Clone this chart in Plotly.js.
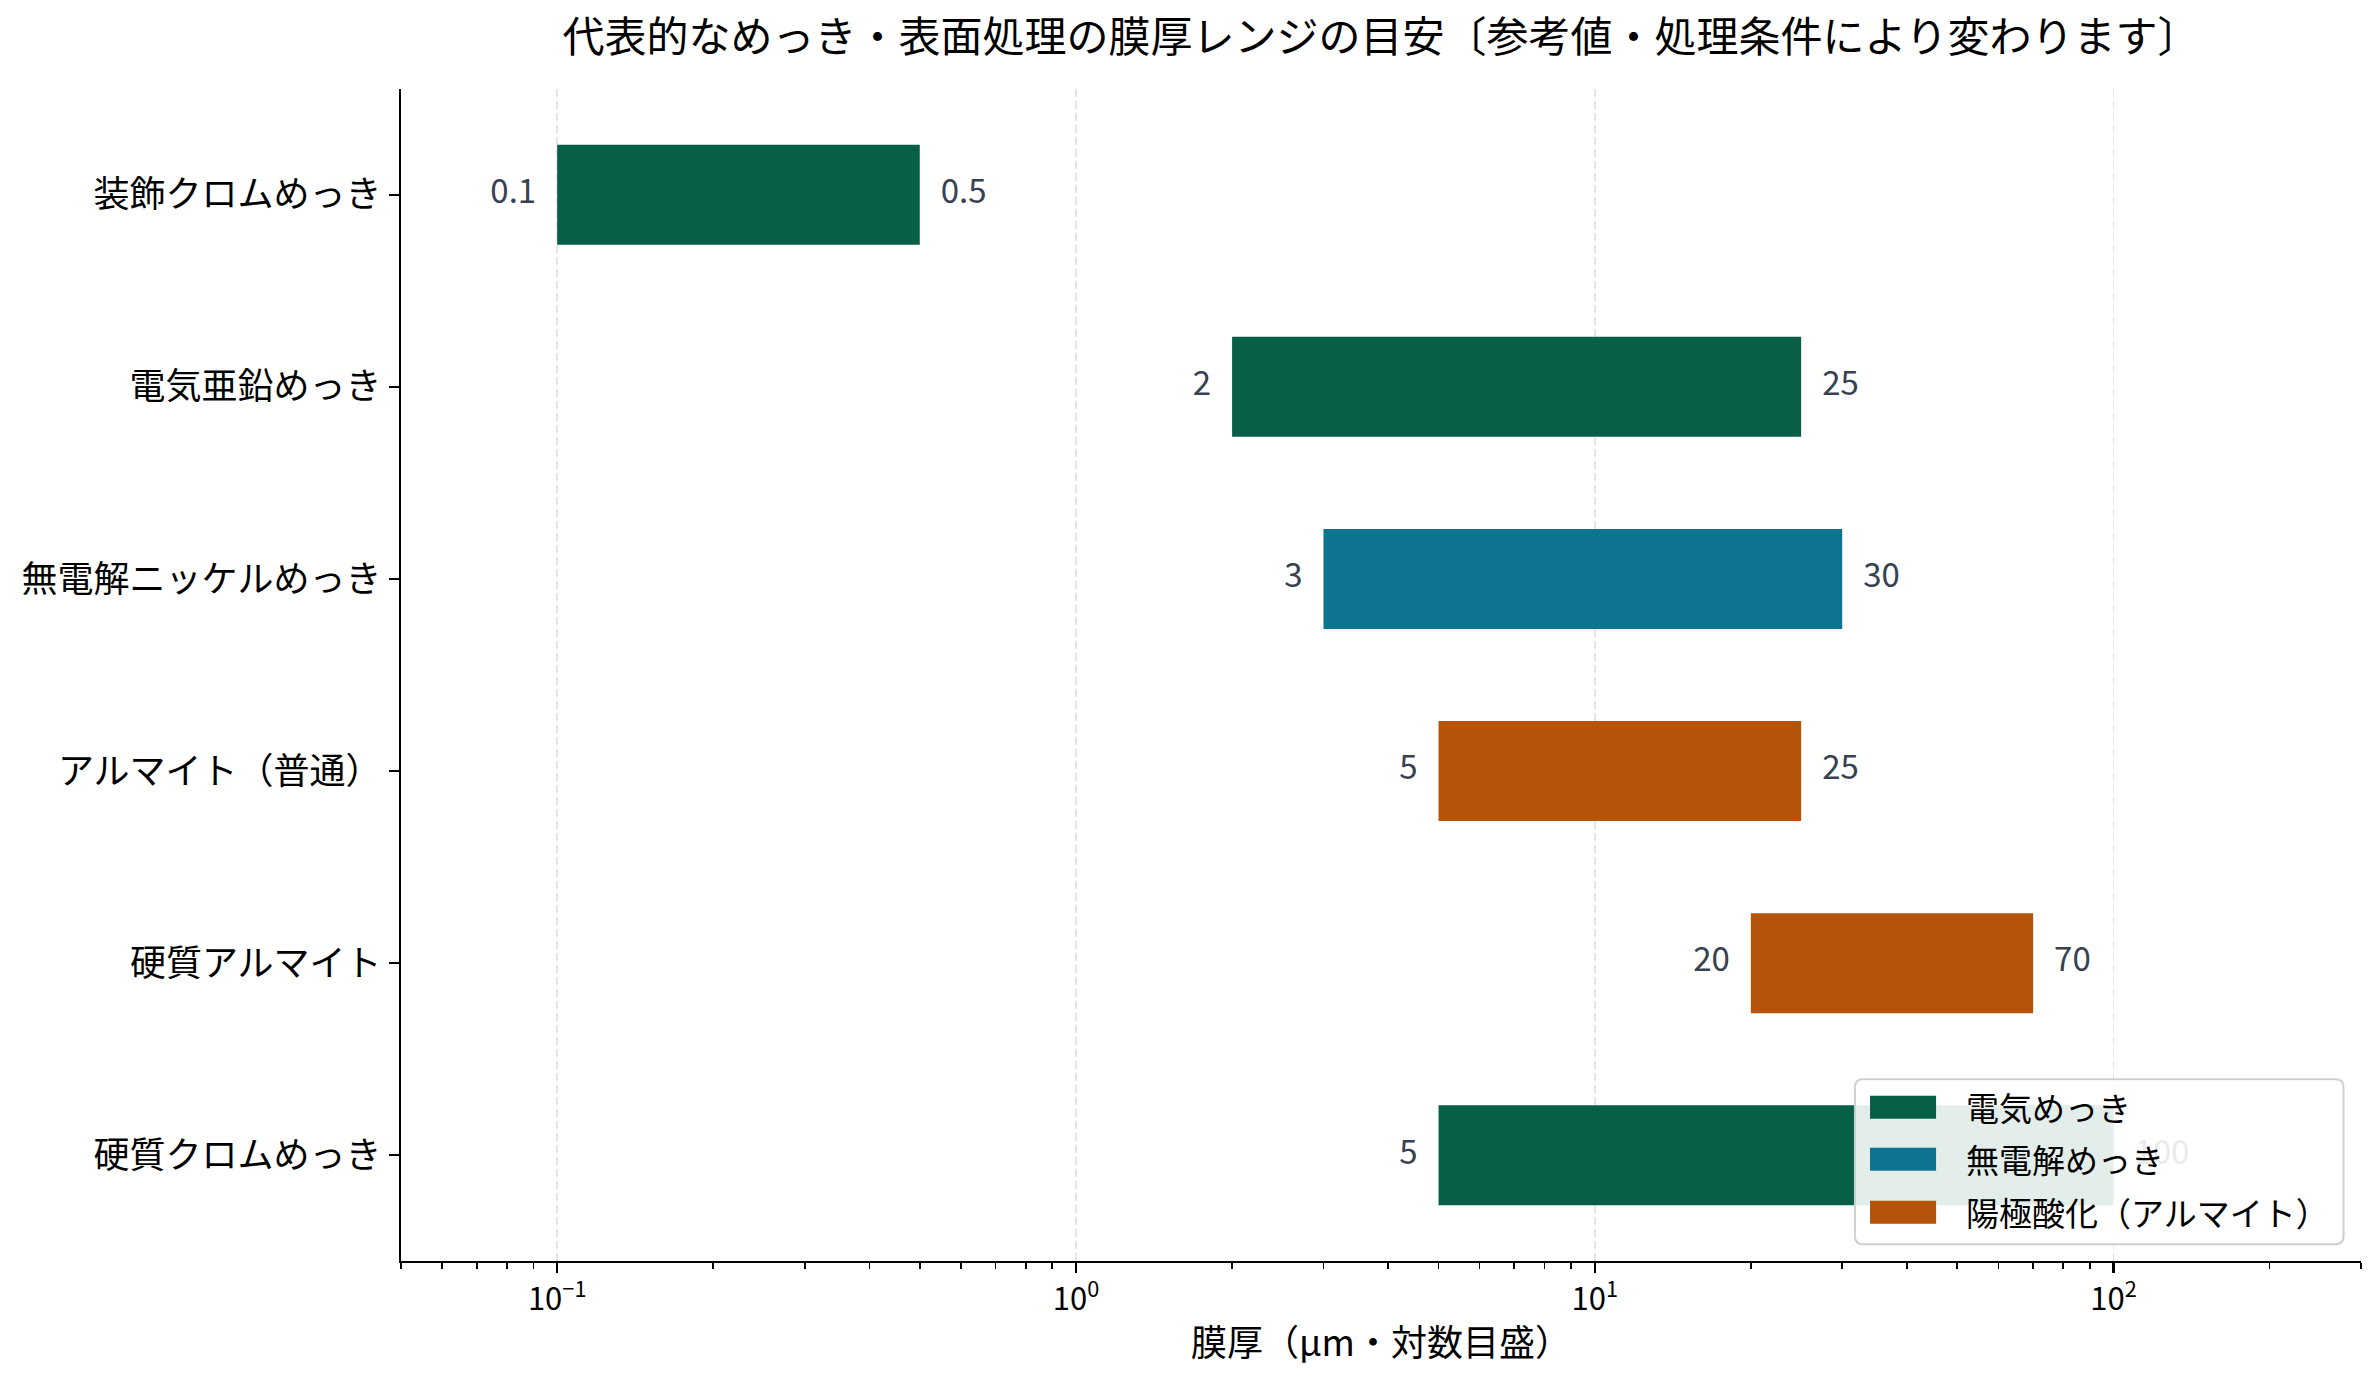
<!DOCTYPE html>
<html>
<head>
<meta charset="utf-8">
<script src="https://cdn.plot.ly/plotly-3.0.1.min.js"></script>
<style>html,body{margin:0;padding:0;background:#fff;}#chart{width:2379px;height:1379px;}</style>
</head>
<body>
<div id="chart"></div>
<script>
// ---- data ----
const categories = ['装飾クロムめっき', '電気亜鉛めっき', '無電解ニッケルめっき', 'アルマイト（普通）', '硬質アルマイト', '硬質クロムめっき'];
const minThickness = [0.1, 2, 3, 5, 20, 5];
const maxThickness = [0.5, 25, 30, 25, 70, 100];
const processGroup = [0, 0, 1, 2, 2, 0];
const groupNames = ['電気めっき', '無電解めっき', '陽極酸化（アルマイト）'];
const groupColors = ['#065f46', '#0e7490', '#b45309'];
const majorTickVals = [0.1, 1, 10, 100];
const majorTickText = ['10<sup>−1</sup>', '10<sup>0</sup>', '10<sup>1</sup>', '10<sup>2</sup>'];

const FONT = 'Noto Sans CJK JP, Noto Sans, sans-serif';
const LABEL_COLOR = '#374151';

// minor ticks 2..9 of each decade within range
const minorTickVals = [];
[0.01, 0.1, 1, 10, 100].forEach(function (d) {
  for (let m = 2; m <= 9; m++) minorTickVals.push(+(d * m).toPrecision(3));
});

const traces = [];
groupNames.forEach(function (name, g) {
  const ys = [], xs = [], bases = [];
  categories.forEach(function (c, i) {
    if (processGroup[i] === g) {
      ys.push(c);
      bases.push(minThickness[i]);
      xs.push(maxThickness[i] - minThickness[i]);
    }
  });
  traces.push({
    type: 'bar', orientation: 'h', name: name,
    y: ys, x: xs, base: bases, width: 0.52,
    marker: { color: groupColors[g], line: { width: 0 } },
    showlegend: false, hoverinfo: 'y+name'
  });
});

// value labels
traces.push({
  type: 'scatter', mode: 'markers+text', x: minThickness, y: categories,
  text: minThickness.map(String), textposition: 'middle left',
  textfont: { family: FONT, size: 33, color: LABEL_COLOR },
  marker: { size: 32, color: 'rgba(0,0,0,0)' },
  showlegend: false, hoverinfo: 'skip', cliponaxis: false
});
traces.push({
  type: 'scatter', mode: 'markers+text', x: maxThickness, y: categories,
  text: maxThickness.map(String), textposition: 'middle right',
  textfont: { family: FONT, size: 33, color: LABEL_COLOR },
  marker: { size: 32, color: 'rgba(0,0,0,0)' },
  showlegend: false, hoverinfo: 'skip', cliponaxis: false
});

// custom legend (matplotlib-style) in paper coordinates
const lx0 = 0.7418, lx1 = 0.9911, ly0 = 0.01426, ly1 = 0.1551, rx = 0.0041, ry = 0.0068;
const boxPath = 'M' + (lx0 + rx) + ',' + ly0 + ' L' + (lx1 - rx) + ',' + ly0 +
  ' Q' + lx1 + ',' + ly0 + ' ' + lx1 + ',' + (ly0 + ry) +
  ' L' + lx1 + ',' + (ly1 - ry) + ' Q' + lx1 + ',' + ly1 + ' ' + (lx1 - rx) + ',' + ly1 +
  ' L' + (lx0 + rx) + ',' + ly1 + ' Q' + lx0 + ',' + ly1 + ' ' + lx0 + ',' + (ly1 - ry) +
  ' L' + lx0 + ',' + (ly0 + ry) + ' Q' + lx0 + ',' + ly0 + ' ' + (lx0 + rx) + ',' + ly0 + ' Z';
const shapes = [{
  type: 'path', xref: 'paper', yref: 'paper', layer: 'above', path: boxPath,
  fillcolor: 'rgba(255,255,255,0.89)', line: { color: 'rgba(204,204,204,0.95)', width: 2 }
}];
const annotations = [];
const rowY = [0.1312, 0.0868, 0.0416];
groupNames.forEach(function (name, g) {
  shapes.push({
    type: 'rect', xref: 'paper', yref: 'paper', layer: 'above',
    x0: 0.7495, x1: 0.7832, y0: rowY[g] - 0.0098, y1: rowY[g] + 0.0098,
    fillcolor: groupColors[g], line: { width: 0 }
  });
  annotations.push({
    xref: 'paper', yref: 'paper', x: 0.7974, y: rowY[g], xanchor: 'left', yanchor: 'middle',
    text: name, showarrow: false, font: { family: FONT, size: 33, color: '#000' }
  });
});

const layout = {
  width: 2379, height: 1379,
  margin: { l: 401, r: 18, t: 89, b: 118 },
  paper_bgcolor: '#fff', plot_bgcolor: '#fff',
  font: { family: FONT, color: '#000' },
  barmode: 'overlay',
  showlegend: false,
  title: {
    text: '代表的なめっき・表面処理の膜厚レンジの目安〔参考値・処理条件により変わります〕',
    font: { family: FONT, size: 42, color: '#000' },
    x: 0.5, xref: 'paper', xanchor: 'center',
    y: 1 - 37 / 1379, yref: 'container', yanchor: 'middle'
  },
  xaxis: {
    type: 'log', range: [Math.log10(0.05), Math.log10(300)],
    showline: true, linecolor: '#000', linewidth: 2.2, mirror: false,
    ticks: 'outside', ticklen: 10, tickwidth: 2.2, tickcolor: '#000',
    tickmode: 'array', tickvals: majorTickVals, ticktext: majorTickText,
    tickfont: { family: FONT, size: 31, color: '#000' },
    showgrid: true, gridcolor: '#e4e4e4', gridwidth: 1.6, griddash: '8px,4px',
    minor: { tickmode: 'array', tickvals: minorTickVals, ticks: 'outside', ticklen: 6, tickwidth: 1.7, tickcolor: '#000', showgrid: false },
    zeroline: false,
    title: { text: '膜厚（µm・対数目盛）', font: { family: FONT, size: 36, color: '#000' }, standoff: 12 }
  },
  yaxis: {
    type: 'category', categoryorder: 'array', categoryarray: categories,
    range: [5.55, -0.55],
    showline: true, linecolor: '#000', linewidth: 2.2,
    ticks: 'outside', ticklen: 10, tickwidth: 2.2, tickcolor: '#000',
    tickfont: { family: FONT, size: 36, color: '#000' },
    showgrid: false, zeroline: false
  },
  shapes: shapes,
  annotations: annotations
};

Plotly.newPlot('chart', traces, layout, { displayModeBar: false, staticPlot: true });
</script>
</body>
</html>
